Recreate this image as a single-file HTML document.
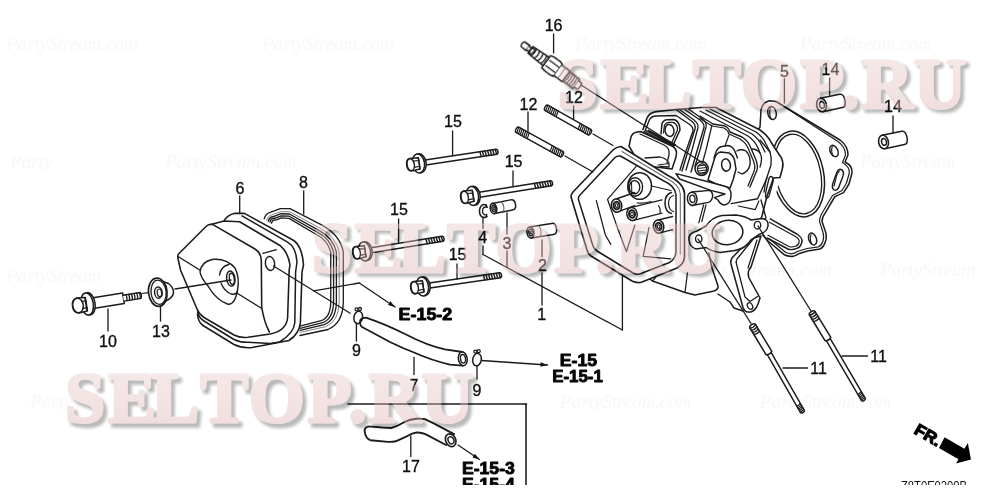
<!DOCTYPE html>
<html><head><meta charset="utf-8"><style>
html,body{margin:0;padding:0;background:#fff;}
body{width:1000px;height:500px;overflow:hidden;position:relative;font-family:"Liberation Sans",sans-serif;}
svg{position:absolute;left:0;top:0;display:block;font-family:"Liberation Sans",sans-serif;}
</style></head><body>
<svg width="1000" height="500" viewBox="0 0 1000 500">
<defs>
<filter id="bl" x="-5%" y="-20%" width="110%" height="140%"><feGaussianBlur stdDeviation="1.6"/></filter>
<linearGradient id="pg" x1="0" y1="0" x2="0" y2="1"><stop offset="0" stop-color="#eecfcf"/><stop offset="1" stop-color="#d9acac"/></linearGradient>
<clipPath id="cp"><rect x="0" y="0" width="1000" height="484.8"/></clipPath>
</defs>
<rect width="1000" height="500" fill="#fff"/>
<g font-family="Liberation Serif, serif" font-style="italic" font-size="19" fill="#f8f8f8">
<text x="6" y="50">PartyStream.com</text><text x="262" y="50">PartyStream.com</text><text x="575" y="50">PartyStream.com</text><text x="800" y="50">PartyStream.com</text>
<text x="10" y="168">Party</text><text x="165" y="168">PartyStream.com</text><text x="640" y="168">Stream.com</text><text x="860" y="168">PartyStream</text>
<text x="6" y="282">PartyStream</text><text x="700" y="276">PartyStream.com</text><text x="880" y="276">PartyStream</text>
<text x="30" y="408">Party</text><text x="560" y="408">PartyStream.com</text><text x="760" y="408">PartyStream.com</text>
</g>
<g clip-path="url(#cp)" stroke-linecap="round" stroke-linejoin="round" opacity="0.999">
<path d="M264.2,218.8 Q265.5,213.5 270.8,212.2 L280.4,208.6 L290.0,208.6 L322.0,225.2 Q340.0,235.0 343.3,252 L343.3,302 Q343.0,323.0 328.0,329.5 L300,335.5" fill="none" stroke="#1c1c1c" stroke-width="1.32" />
<path d="M266.59999999999997,220.24 Q267.74,215.42 272.40000000000003,214.76 L280.71999999999997,211.64 L289.68,211.79999999999998 L320.1568,228.23999999999998 Q335.904,236.6 339.204,252 L339.204,302 Q338.904,321.24 325.7472,326.62 L300,332.46" fill="none" stroke="#777" stroke-width="0.9239999999999999" />
<path d="M268.25,221.23000000000002 Q269.28,216.74 273.5,216.51999999999998 L280.94,213.73 L289.46,214.0 L318.8896,230.32999999999998 Q333.088,237.7 336.38800000000003,252 L336.38800000000003,302 Q336.088,320.03 324.1984,324.64 L300,330.37" fill="none" stroke="#1c1c1c" stroke-width="1.32" />
<path d="M269.9,222.22 Q270.82,218.06 274.6,218.28 L281.15999999999997,215.82 L289.24,216.2 L317.6224,232.42 Q330.272,238.8 333.572,252 L333.572,302 Q333.272,318.82 322.6496,322.66 L300,328.28" fill="none" stroke="#1c1c1c" stroke-width="1.32" />
<path d="M271.55,223.21 Q272.36,219.38 275.7,220.04 L281.38,217.91 L289.02,218.4 L316.3552,234.51 Q327.456,239.9 330.75600000000003,252 L330.75600000000003,302 Q330.456,317.61 321.1008,320.68 L300,326.19" fill="none" stroke="#1c1c1c" stroke-width="1.32" />
<path d="M224,221 Q227,215 235,213.2 L244.4,213.4 L292.4,239.8 Q302,245 303.5,265 L302,272 L300.4,322.8 Q299,334 289,340.5 L252,347.5 Q242,348.5 234,344.5 L203,325.5 Q198,322 197.5,314 L178,257 L208,225 Z" fill="#fff" stroke="none" stroke-width="0.0" />
<path d="M224,221 Q227,215 235,213.2 L244.4,213.4 L292.4,239.8 Q302,245 303.5,265 L302,272 L300.4,322.8 Q299,334 289,340.5 L252,347.5 Q242,348.5 234,344.5 L203,325.5 Q198,322 197.5,314" fill="none" stroke="#1c1c1c" stroke-width="1.584" />
<path d="M242,215.8 L287.6,242.2 Q296,247 297,262 L295.6,272 L294.8,322.8 Q294,333 279.6,342 L270,343.6 L248,342.3 Q240,342.5 234,339.5 L204,321 Q199,318 197.5,312" fill="none" stroke="#1c1c1c" stroke-width="1.518" />
<path d="M177.7,257 L180.5,270 L197,309 Q199,314 204,317.5 L234,335 Q240,338 248,337.3 L270,334 Q286,331 287.6,318 L289.2,270 L290,265 Q288,252 280.4,245.8 L239.6,221.8 L224,221 L211,224.6" fill="none" stroke="#1c1c1c" stroke-width="1.584" />
<path d="M177.7,257 Q177.5,255 179,253.5 L206.5,226 Q209,223.8 212.5,224.4 L255,249 Q261,253 261.3,260 L261.7,307 Q264,322 269.4,332" fill="none" stroke="#1c1c1c" stroke-width="1.584" />
<path d="M178,256.5 L261,308" fill="none" stroke="#1c1c1c" stroke-width="1.4520000000000002" />
<path d="M263,253.3 L276.4,249.7" fill="none" stroke="#1c1c1c" stroke-width="1.32" />
<ellipse cx="270.0" cy="263.5" rx="4.6" ry="7" transform="rotate(-8 270.0 263.5)" fill="none" stroke="#1c1c1c" stroke-width="1.4520000000000002"/>
<path d="M200,272 Q201,262 212,259.5 Q226,258 235,268 Q240,278 237.5,290 Q235,305 228,304.3 Q216,300 208,286 Q201,278 200,272 Z" fill="#fff" stroke="#1c1c1c" stroke-width="1.4520000000000002" />
<path d="M219.5,275 Q221,266 229,264.5 M221,283 Q224,291 231,294 Q236,295 237,292" fill="none" stroke="#1c1c1c" stroke-width="1.32" />
<ellipse cx="230.8" cy="278.6" rx="4.2" ry="7.6" transform="rotate(-8 230.8 278.6)" fill="#fff" stroke="#1c1c1c" stroke-width="1.4520000000000002"/>
<ellipse cx="231.8" cy="278.8" rx="2.4" ry="5.6" transform="rotate(-8 231.8 278.8)" fill="none" stroke="#1c1c1c" stroke-width="1.32"/>
<line x1="273.5" y1="266.0" x2="350.2" y2="313.2" stroke="#1c1c1c" stroke-width="1.32"/>
<g transform="translate(81.0 305.0) rotate(-9.10)">
<path d="M10,-5.3 L43,-5.3 L43,5.3 L10,5.3" fill="#fff" stroke="#1c1c1c" stroke-width="1.518" />
<path d="M43,-3 L60.5,-3 Q62,0 60.5,3 L43,3" fill="#fff" stroke="#1c1c1c" stroke-width="1.3860000000000001" />
<path d="M46,-3 Q47,0 46,3" fill="none" stroke="#1c1c1c" stroke-width="1.32" />
<path d="M48.7,-3 Q49.7,0 48.7,3" fill="none" stroke="#1c1c1c" stroke-width="1.32" />
<path d="M51.400000000000006,-3 Q52.400000000000006,0 51.400000000000006,3" fill="none" stroke="#1c1c1c" stroke-width="1.32" />
<path d="M54.10000000000001,-3 Q55.10000000000001,0 54.10000000000001,3" fill="none" stroke="#1c1c1c" stroke-width="1.32" />
<path d="M56.80000000000001,-3 Q57.80000000000001,0 56.80000000000001,3" fill="none" stroke="#1c1c1c" stroke-width="1.32" />
<path d="M59.500000000000014,-3 Q60.500000000000014,0 59.500000000000014,3" fill="none" stroke="#1c1c1c" stroke-width="1.32" />
<ellipse cx="8.0" cy="0.0" rx="6.2" ry="11.2" transform="rotate(0 8.0 0.0)" fill="#fff" stroke="#1c1c1c" stroke-width="1.518"/>
<ellipse cx="6.2" cy="0.0" rx="6.2" ry="11.2" transform="rotate(0 6.2 0.0)" fill="#fff" stroke="#1c1c1c" stroke-width="1.518"/>
<path d="M5,-6.8 L-3,-7.6 Q-8.6,-7 -8.6,0 Q-8.6,7 -3,7.6 L5,6.8 Z" fill="#fff" stroke="#1c1c1c" stroke-width="1.518" />
<ellipse cx="-3.0" cy="0.0" rx="5.2" ry="7.3" transform="rotate(0 -3.0 0.0)" fill="#fff" stroke="#1c1c1c" stroke-width="1.4520000000000002"/>
<line x1="1.0" y1="-3.6" x2="5.6" y2="-3.3" stroke="#1c1c1c" stroke-width="1.1880000000000002"/>
<line x1="1.0" y1="3.8" x2="5.6" y2="3.5" stroke="#1c1c1c" stroke-width="1.1880000000000002"/>
<line x1="5.6" y1="-6.8" x2="5.6" y2="6.8" stroke="#1c1c1c" stroke-width="1.1880000000000002"/>
</g>
<path d="M163,281.5 L168.5,283.5 Q174,287.5 173.4,293.5 Q172.4,298 165,301.5" fill="#fff" stroke="#1c1c1c" stroke-width="1.518" />
<ellipse cx="157.8" cy="292.2" rx="9.3" ry="14.2" transform="rotate(-6 157.8 292.2)" fill="#fff" stroke="#1c1c1c" stroke-width="1.6500000000000001"/>
<ellipse cx="158.6" cy="292.2" rx="7.6" ry="12.2" transform="rotate(-6 158.6 292.2)" fill="none" stroke="#1c1c1c" stroke-width="1.32"/>
<ellipse cx="158.4" cy="292.6" rx="3.8" ry="5.6" transform="rotate(-6 158.4 292.6)" fill="none" stroke="#1c1c1c" stroke-width="1.4520000000000002"/>
<ellipse cx="159.4" cy="292.8" rx="2.2" ry="3.8" transform="rotate(-6 159.4 292.8)" fill="none" stroke="#1c1c1c" stroke-width="1.1880000000000002"/>
<line x1="141.8" y1="293.5" x2="148.5" y2="292.6" stroke="#1c1c1c" stroke-width="1.254"/>
<path d="M366,317.6 Q385,324 405,334 Q428,346 445,349.3 L462.5,352 M362,327 Q375,334 390,342 Q402,348 414,352.5 Q432,360.5 450,364.6 L462.5,365.6 M366,317.6 Q359.5,318 360,322.5 Q360.3,326 362,327" fill="none" stroke="#1c1c1c" stroke-width="1.8479999999999999" />
<ellipse cx="462.8" cy="358.8" rx="4.4" ry="6.9" transform="rotate(-8 462.8 358.8)" fill="#fff" stroke="#1c1c1c" stroke-width="1.518"/>
<ellipse cx="463.0" cy="358.8" rx="2.5" ry="4.3" transform="rotate(-8 463.0 358.8)" fill="none" stroke="#1c1c1c" stroke-width="1.3860000000000001"/>
<path d="M368.8,426.4 Q364,427.5 364.7,431.5 Q365.5,438.5 370.4,440.2 L388,441.9 Q393,442 395.7,441.3 L407.8,435.8 Q412,433 416.6,432.5 Q421,432.2 425.4,434.2 L446,445 M368.8,426.4 L382.5,427.5 L391.3,428 Q398,426 404.5,422 Q410,419.2 416.6,418.7 Q421,418.3 425.4,419.3 L434.2,423.7 L454,434.2" fill="none" stroke="#1c1c1c" stroke-width="1.914" />
<ellipse cx="450.7" cy="440.2" rx="5" ry="6.6" transform="rotate(-25 450.7 440.2)" fill="#fff" stroke="#1c1c1c" stroke-width="1.7160000000000002"/>
<ellipse cx="451.0" cy="440.3" rx="2.8" ry="3.7" transform="rotate(-25 451.0 440.3)" fill="none" stroke="#1c1c1c" stroke-width="1.4520000000000002"/>
<ellipse cx="358.2" cy="317.4" rx="4.3" ry="6.3" transform="rotate(10 358.2 317.4)" fill="none" stroke="#1c1c1c" stroke-width="1.518"/>
<ellipse cx="356.6" cy="309.4" rx="1.5" ry="1.5" transform="rotate(0 356.6 309.4)" fill="none" stroke="#1c1c1c" stroke-width="1.32"/>
<ellipse cx="359.9" cy="309.0" rx="1.5" ry="1.5" transform="rotate(0 359.9 309.0)" fill="none" stroke="#1c1c1c" stroke-width="1.32"/>
<ellipse cx="477.0" cy="359.6" rx="4.3" ry="6.3" transform="rotate(10 477.0 359.6)" fill="none" stroke="#1c1c1c" stroke-width="1.518"/>
<ellipse cx="475.4" cy="351.6" rx="1.5" ry="1.5" transform="rotate(0 475.4 351.6)" fill="none" stroke="#1c1c1c" stroke-width="1.32"/>
<ellipse cx="478.7" cy="351.2" rx="1.5" ry="1.5" transform="rotate(0 478.7 351.2)" fill="none" stroke="#1c1c1c" stroke-width="1.32"/>
<g transform="translate(522 43.6) rotate(36.6) scale(1.04 1.13)">
<path d="M1,-2.6 L7,-2.9 L7,2.9 L1,2.6 Q-1,0 1,-2.6 Z" fill="#fff" stroke="#1c1c1c" stroke-width="1.32" />
<path d="M7,-2 L10,-2 L10,2 L7,2" fill="#fff" stroke="#1c1c1c" stroke-width="1.32" />
<path d="M10,-3.6 L29,-4.6 L29,4.6 L10,3.6 Z" fill="#fff" stroke="#1c1c1c" stroke-width="1.32" />
<path d="M14,-4 Q15.8,0 14,4" fill="none" stroke="#1c1c1c" stroke-width="1.1880000000000002" />
<path d="M18,-4 Q19.8,0 18,4" fill="none" stroke="#1c1c1c" stroke-width="1.1880000000000002" />
<path d="M22,-4 Q23.8,0 22,4" fill="none" stroke="#1c1c1c" stroke-width="1.1880000000000002" />
<path d="M26,-4 Q27.8,0 26,4" fill="none" stroke="#1c1c1c" stroke-width="1.1880000000000002" />
<ellipse cx="12.0" cy="0.0" rx="1.7" ry="2.8" transform="rotate(0 12.0 0.0)" fill="none" stroke="#1c1c1c" stroke-width="1.1880000000000002"/>
<path d="M29,-6.6 L33,-7.4 L40,-7.4 L43,-6.6 L43,6.6 L40,7.4 L33,7.4 L29,6.6 Z" fill="#fff" stroke="#1c1c1c" stroke-width="1.3860000000000001" />
<line x1="31.0" y1="-2.6" x2="42.0" y2="-2.6" stroke="#1c1c1c" stroke-width="1.122"/>
<line x1="31.0" y1="3.0" x2="42.0" y2="3.0" stroke="#1c1c1c" stroke-width="1.122"/>
<path d="M43,-5.8 L53,-5.8 L53,5.8 L43,5.8" fill="#fff" stroke="#1c1c1c" stroke-width="1.3860000000000001" />
<path d="M47.5,-5.8 L47.5,5.8" fill="none" stroke="#777" stroke-width="0.9239999999999999" />
<path d="M53,-5.0 L65,-5.0 L65,5.0 L53,5.0 Z" fill="#fff" stroke="#1c1c1c" stroke-width="1.3860000000000001" />
<path d="M54.5,-5 Q55.9,0 54.5,5" fill="none" stroke="#1c1c1c" stroke-width="1.122" />
<path d="M57.1,-5 Q58.5,0 57.1,5" fill="none" stroke="#1c1c1c" stroke-width="1.122" />
<path d="M59.7,-5 Q61.1,0 59.7,5" fill="none" stroke="#1c1c1c" stroke-width="1.122" />
<path d="M62.300000000000004,-5 Q63.7,0 62.300000000000004,5" fill="none" stroke="#1c1c1c" stroke-width="1.122" />
<path d="M64.9,-5 Q66.30000000000001,0 64.9,5" fill="none" stroke="#1c1c1c" stroke-width="1.122" />
<path d="M65,-3.4 L69,-3.2 Q70.5,0 69,3.2 L65,3.4" fill="#fff" stroke="#1c1c1c" stroke-width="1.32" />
</g>
<path d="M760,127 L761,110 Q762.5,102 770,100.8 L776,101.5 L840,140 Q848,146 848,155 L845,162 Q853,166 852,173 L849,184 L843.6,192.6 Q838,195 834.6,197 L825.6,212.4 Q822,217 822,221.4 L825.6,232 Q827,238 825.6,241 Q824,247 820,249 L807.6,251 L798.6,253.8 Q794,256.5 791.4,256.5 Q787,256 784.2,254.7 L768,241 L745,215 L745,150 Z" fill="#fff" stroke="#1c1c1c" stroke-width="1.518" />
<path d="M780,104 L838,141.5 Q845.5,147 845.5,155 L842.5,162.5 Q850,167 849.3,173 L846.5,183 L842,190.5 L832.5,195.5 L823,211.5 Q819.5,217 819.5,221.4 L823,232.5 Q824.3,238 823,241 Q821.5,245.5 818.5,246.8 L807,248.5 L798,251.3 Q794,253.8 791.4,253.8 Q788,253.5 785.5,252.3 L769.5,239" fill="none" stroke="#1c1c1c" stroke-width="1.1880000000000002" />
<ellipse cx="772.0" cy="113.0" rx="4.2" ry="6.6" transform="rotate(-12 772.0 113.0)" fill="none" stroke="#1c1c1c" stroke-width="1.4520000000000002"/>
<path d="M770.5,108 Q768.5,113 771,118.5" fill="none" stroke="#1c1c1c" stroke-width="1.1880000000000002" />
<ellipse cx="834.0" cy="151.0" rx="3.8" ry="6" transform="rotate(-25 834.0 151.0)" fill="none" stroke="#1c1c1c" stroke-width="1.4520000000000002"/>
<path d="M832.3,146.5 Q830.7,151 833,156" fill="none" stroke="#1c1c1c" stroke-width="1.122" />
<ellipse cx="812.6" cy="239.0" rx="3.8" ry="6.2" transform="rotate(-20 812.6 239.0)" fill="none" stroke="#1c1c1c" stroke-width="1.4520000000000002"/>
<path d="M811,234.5 Q809.4,239 811.6,244" fill="none" stroke="#1c1c1c" stroke-width="1.122" />
<path d="M841,169.5 Q844.5,171 843,176 L838.5,188 Q836,191.5 833.5,189.5 Q831.5,187.5 833,183 L837,172 Q838.5,168.5 841,169.5 Z" fill="none" stroke="#1c1c1c" stroke-width="1.4520000000000002" />
<path d="M839.5,171 Q837.5,172.5 836.5,176 L834,186" fill="none" stroke="#1c1c1c" stroke-width="1.122" />
<ellipse cx="798.0" cy="174.0" rx="25.5" ry="43.5" transform="rotate(-12 798.0 174.0)" fill="none" stroke="#1c1c1c" stroke-width="1.518"/>
<ellipse cx="798.0" cy="174.0" rx="22.6" ry="40.4" transform="rotate(-12 798.0 174.0)" fill="none" stroke="#1c1c1c" stroke-width="1.32"/>
<path d="M769.8,218.7 L796.8,234 Q802.5,237.5 802,241.5 Q801,247 796.8,248.4 Q792,250.5 788,249 L767,238" fill="none" stroke="#1c1c1c" stroke-width="1.4520000000000002" />
<path d="M769,222 L795.5,236.5 Q799.5,239 799.2,241.8 Q798.5,245.3 795.5,246.2 Q792,247.6 789,246.5 L768,235.2" fill="none" stroke="#1c1c1c" stroke-width="1.1880000000000002" />
<path d="M640,270 L652.5,281 L685,292.5 L695,295 L714,291 Q718.5,289.5 718,286 L712,268 L708,250 L757,243 L768,225 L780,178 L690,180 Z" fill="#fff" stroke="none" stroke-width="0.0" />
<path d="M646,276 L652.5,281 L685,292.5 L695,295 L714,291 Q718.5,289.5 718,286 L712,268 L708,250" fill="none" stroke="#1c1c1c" stroke-width="1.518" />
<path d="M718,294 L730,302 L734,308 L743,311" fill="none" stroke="#1c1c1c" stroke-width="1.4520000000000002" />
<path d="M687.5,272.5 L685,292.5 M652.5,281 L660,272" fill="none" stroke="#1c1c1c" stroke-width="1.254" />
<path d="M750,239 L732,258 Q730,261 731,264 L742,304 Q743.5,311 747,312 L751,312 Q756,310 758,304 L760,298 L749,278 Q747.5,273 749,270 L751,267 L761,236 Z" fill="#fff" stroke="#1c1c1c" stroke-width="1.518" />
<path d="M754,238 L737,259 Q735.5,261.5 736.5,264 L745,297 L750,301.5 L757.5,296.5 M757,240 L748,268" fill="none" stroke="#1c1c1c" stroke-width="1.254" />
<ellipse cx="750.0" cy="306.0" rx="2.5" ry="3.5" transform="rotate(-25 750.0 306.0)" fill="none" stroke="#1c1c1c" stroke-width="1.32"/>
<path d="M643,129.5 L647,118 Q649.5,112.8 656,111.6 L676,109.5 L701,107.5 L716,107.5 L760,130 Q768,135.5 771.5,143 L781.5,158 Q783.8,163 782.5,168 L780,177.5 L773.5,178 L767,196 L762,216 L757,228 L690,262 L690,180 L640,150 Z" fill="#fff" stroke="none" stroke-width="0.0" />
<path d="M643,129.5 L647,118 Q649.5,112.8 656,111.6 L676,109.5 L701,107.5 L716,107.5 L760,130 Q768,135.5 771.5,143 L781.5,158 Q783.8,163 782.5,168 L780,177.5 L773.5,178 L767,196 L762,216 L757,228" fill="none" stroke="#1c1c1c" stroke-width="1.584" />
<path d="M645,131 L649.5,119.5 Q651.5,116.3 656,116 L676,115.5 L689,124 Q693.5,127 693,131 L686,151 L680,170" fill="none" stroke="#1c1c1c" stroke-width="1.3860000000000001" />
<path d="M676,109.5 L692,121.5 Q696,124.5 695,129 L688,151 L682,171" fill="none" stroke="#1c1c1c" stroke-width="1.3860000000000001" />
<path d="M679,109.3 L694,120 Q698.5,123.5 698,127.5 L692,150 L686,170" fill="none" stroke="#1c1c1c" stroke-width="1.32" />
<path d="M684,109 L700,120 Q704.5,123.5 704,127.5 L697,151 L691,172" fill="none" stroke="#1c1c1c" stroke-width="1.3860000000000001" />
<path d="M688,108.7 L702,118.5 Q707,122 706,127 L700,150 L695,166" fill="none" stroke="#1c1c1c" stroke-width="1.32" />
<path d="M712,125 L706,150 L703,161" fill="none" stroke="#1c1c1c" stroke-width="1.254" />
<path d="M710,109 L756,132 Q763,137 766,144 L770,152" fill="none" stroke="#1c1c1c" stroke-width="1.3860000000000001" />
<path d="M706,110 L752,134 Q759,139 762,146 L765,152" fill="none" stroke="#1c1c1c" stroke-width="1.32" />
<path d="M700,111 L748,136 Q755,141 758,148 L760,153" fill="none" stroke="#1c1c1c" stroke-width="1.32" />
<path d="M700,116 L713,124 L725,126 Q729,128 730,132 L742,137 Q748,141 750,146 L756,160 Q758,166 757,170 L750,187" fill="none" stroke="#1c1c1c" stroke-width="1.3860000000000001" />
<path d="M700,118.5 L712,126 L724,128 Q728,130 729,134 L740,139 Q746,143 748,148 L753.5,161 Q755.5,166 754.5,170 L748,186" fill="none" stroke="#1c1c1c" stroke-width="1.254" />
<path d="M729,135 L725,146" fill="none" stroke="#1c1c1c" stroke-width="1.1880000000000002" />
<path d="M760,140 L770,152 Q772,158 771,165 L766,180 L764,192" fill="none" stroke="#1c1c1c" stroke-width="1.32" />
<path d="M771,176.5 Q774,177.5 773,182 L769,196 Q767.5,199 766,197.5 Q765,196 766,191 L769,178.5 Q770,176 771,176.5 Z" fill="none" stroke="#1c1c1c" stroke-width="1.32" />
<path d="M761,200 L766,218 L754,224" fill="none" stroke="#1c1c1c" stroke-width="1.32" />
<path d="M737,151 Q741,148.5 746,151 Q751,156 750,165 Q748,172 742,174 L738,172" fill="none" stroke="#1c1c1c" stroke-width="1.3860000000000001" />
<path d="M752,149 Q757,149 760,153 Q763,158 760,167" fill="none" stroke="#1c1c1c" stroke-width="1.32" />
<path d="M661,134 L662,123.5 Q663.5,120 667,119.8 L674,119.5 Q678.5,121 679.5,126 L680,130 L674,143 L671.5,150" fill="#fff" stroke="#1c1c1c" stroke-width="1.518" />
<path d="M663.5,133 L664.5,125 Q666,122.5 669,122.3 L673,122.3 Q676.5,123.5 677.3,127 L677.5,130 L672,142" fill="none" stroke="#1c1c1c" stroke-width="1.254" />
<ellipse cx="669.5" cy="130.5" rx="4.4" ry="6" transform="rotate(-10 669.5 130.5)" fill="none" stroke="#1c1c1c" stroke-width="1.518"/>
<ellipse cx="701.6" cy="168.6" rx="6.6" ry="7" transform="rotate(0 701.6 168.6)" fill="#fff" stroke="#1c1c1c" stroke-width="1.518"/>
<ellipse cx="702.0" cy="169.0" rx="4.6" ry="5.2" transform="rotate(0 702.0 169.0)" fill="none" stroke="#1c1c1c" stroke-width="1.254"/>
<path d="M698,166 L706,165 M697.5,168.5 L706.5,167.5 M698,171 L706,170 M699,173.2 L705,172.4" fill="none" stroke="#1c1c1c" stroke-width="1.122" />
<path d="M708,180 L715,157 Q717,152.5 721,152 L729,153 Q733.5,155.5 734.5,160 L736,169 L733,180 L730,188 L716,184 Z" fill="#fff" stroke="#1c1c1c" stroke-width="1.518" />
<path d="M714,158 L716,152 Q718,147 722,146.5 L728,145.5 Q733,146.5 735,151.5 L737.5,158" fill="none" stroke="#1c1c1c" stroke-width="1.3860000000000001" />
<ellipse cx="726.0" cy="165.0" rx="4.4" ry="6.2" transform="rotate(-10 726.0 165.0)" fill="none" stroke="#1c1c1c" stroke-width="1.518"/>
<path d="M629,146 L631,137 Q632.5,133 636,132.2 L640.5,131.5 L672,146 Q676.5,148.5 676.5,153 L676,157 L672,169 L640,165 Z" fill="#fff" stroke="#1c1c1c" stroke-width="1.518" />
<path d="M640,134 L664,145 Q668.5,147.5 669,151 L669,155 L667,163" fill="none" stroke="#1c1c1c" stroke-width="1.32" />
<path d="M644,131.6 L673,146.2 M646,130.6 L674.5,145.6 M648.5,130.3 L675.5,144.6" fill="none" stroke="#1c1c1c" stroke-width="1.32" />
<path d="M645,158 L660,157 Q666,158 669,163 M658,165 L669,163.5 L669,167 L660,166.5" fill="none" stroke="#1c1c1c" stroke-width="1.254" />
<path d="M689,240 Q688,233 697,231 L706,226 Q712,217 722,215.5 L736,215 Q745,216 751,220 L762,218.5 Q769,219.5 768,226 Q767,232 760,234 L751,240 Q745,249 735,250.5 L720,252.5 Q711,251 706,247.5 L696,249 Q690,247.5 689,240 Z" fill="#fff" stroke="#1c1c1c" stroke-width="1.518" />
<ellipse cx="727.5" cy="232.5" rx="15.4" ry="12.2" transform="rotate(-8 727.5 232.5)" fill="none" stroke="#1c1c1c" stroke-width="1.518"/>
<ellipse cx="698.7" cy="238.8" rx="3.2" ry="3.8" transform="rotate(0 698.7 238.8)" fill="none" stroke="#1c1c1c" stroke-width="1.3860000000000001"/>
<ellipse cx="757.5" cy="225.2" rx="3.2" ry="3.8" transform="rotate(0 757.5 225.2)" fill="none" stroke="#1c1c1c" stroke-width="1.3860000000000001"/>
<path d="M676,173.6 L713,183 L726.4,186.8 Q731,189 731,194 Q731,200 729,202.4 Q726,205.5 723,204.8 Q719,203 718,200 L714.4,197.6 L725,194 L710.8,190.4 L679.6,179 Z" fill="#fff" stroke="#1c1c1c" stroke-width="1.4520000000000002" />
<path d="M703.6,204.8 L698.8,222.8 M706,204.8 L701.8,221.6" fill="none" stroke="#1c1c1c" stroke-width="1.254" />
<path d="M731.2,203.6 L757.6,198.8 L767,178" fill="none" stroke="#1c1c1c" stroke-width="1.3860000000000001" />
<path d="M738.4,206 L755.2,209.6 L758.8,201.2" fill="none" stroke="#1c1c1c" stroke-width="1.254" />
<path d="M571.2,197.6 Q570.5,195 573,192 L613,150 Q616,147 621,146.5 L668,175.5 Q683.5,183 684.5,193 L684.5,257 Q684,264 677,268 L642,282 Q637,283.5 632,281 L591,256 Q588,254 587,250 Z" fill="#fff" stroke="#1c1c1c" stroke-width="1.6500000000000001" />
<path d="M578.4,199.5 Q578,197 580,195 L615,157.5 Q617,155.5 620.5,156 L663,180.5 Q675.5,186 676,195 L676,252 Q675.5,259 669.5,262.5 L641,273.5 Q637,275 633,273 L597,251 Q594,249 593,246 Z" fill="none" stroke="#1c1c1c" stroke-width="1.518" />
<path d="M622,151.5 L666,178 Q679.5,184.5 680.3,194 L680.3,254" fill="none" stroke="#666" stroke-width="1.056" />
<path d="M692,192 L709.6,190.4 Q713,192.5 712.6,196.5 Q712,201 708.4,202.4 L692,205.5" fill="#fff" stroke="#1c1c1c" stroke-width="1.4520000000000002" />
<ellipse cx="692.2" cy="198.8" rx="4.8" ry="6.6" transform="rotate(-5 692.2 198.8)" fill="#fff" stroke="#1c1c1c" stroke-width="1.518"/>
<ellipse cx="692.4" cy="198.8" rx="2.6" ry="3.7" transform="rotate(-5 692.4 198.8)" fill="none" stroke="#1c1c1c" stroke-width="1.32"/>
<path d="M651.6,186 L671,190.5" fill="none" stroke="#1c1c1c" stroke-width="1.254" />
<ellipse cx="639.7" cy="186.0" rx="11.8" ry="13.3" transform="rotate(0 639.7 186.0)" fill="#fff" stroke="#1c1c1c" stroke-width="1.518"/>
<ellipse cx="635.2" cy="187.0" rx="7.4" ry="9.2" transform="rotate(0 635.2 187.0)" fill="none" stroke="#1c1c1c" stroke-width="1.3860000000000001"/>
<ellipse cx="634.6" cy="187.2" rx="5.2" ry="6.6" transform="rotate(0 634.6 187.2)" fill="none" stroke="#1c1c1c" stroke-width="1.32"/>
<path d="M631.5,182.5 L631.8,192 L636,194" fill="none" stroke="#1c1c1c" stroke-width="1.056" />
<path d="M671.5,192.5 Q665,194 665,203.5 Q665.5,212.5 671.5,213.5" fill="none" stroke="#1c1c1c" stroke-width="1.518" />
<path d="M673.5,195.5 Q668.5,197 668.5,203.5 Q669,210.5 673.5,211.5" fill="none" stroke="#1c1c1c" stroke-width="1.254" />
<path d="M637,203 Q645,203.5 651,201.5 M658.5,205.5 Q661,209 660,213" fill="none" stroke="#1c1c1c" stroke-width="1.122" />
<path d="M596.3,200.7 L605.4,235 L610.8,244.4 M607.5,199.3 L618,229.4 L626.4,251.6 L634.8,225.2 M649,227.6 L643.2,256.4 L670.8,258.8 M607.5,199.3 L636.2,166.4" fill="none" stroke="#1c1c1c" stroke-width="1.254" />
<path d="M616.1,199.0 L634.6,192.5 M617.1,212.2 L634.6,205.7" fill="none" stroke="#1c1c1c" stroke-width="1.3860000000000001" />
<ellipse cx="616.6" cy="205.6" rx="5.2" ry="6.6" transform="rotate(-10 616.6 205.6)" fill="#fff" stroke="#1c1c1c" stroke-width="1.518"/>
<ellipse cx="616.6" cy="205.6" rx="3.0" ry="3.8" transform="rotate(-10 616.6 205.6)" fill="none" stroke="#1c1c1c" stroke-width="1.98"/>
<ellipse cx="616.6" cy="205.6" rx="1.3" ry="1.8" transform="rotate(-10 616.6 205.6)" fill="none" stroke="#1c1c1c" stroke-width="1.056"/>
<path d="M631.5,207.4 L662,199.9 M632.5,220.6 L662,213.1" fill="none" stroke="#1c1c1c" stroke-width="1.3860000000000001" />
<ellipse cx="632.0" cy="214.0" rx="5.2" ry="6.6" transform="rotate(-10 632.0 214.0)" fill="#fff" stroke="#1c1c1c" stroke-width="1.518"/>
<ellipse cx="632.0" cy="214.0" rx="3.0" ry="3.8" transform="rotate(-10 632.0 214.0)" fill="none" stroke="#1c1c1c" stroke-width="1.98"/>
<ellipse cx="632.0" cy="214.0" rx="1.3" ry="1.8" transform="rotate(-10 632.0 214.0)" fill="none" stroke="#1c1c1c" stroke-width="1.056"/>
<path d="M658.1,220.0 L672.6,216.5 M659.1,233.2 L672.6,229.7" fill="none" stroke="#1c1c1c" stroke-width="1.3860000000000001" />
<ellipse cx="658.6" cy="226.6" rx="5.2" ry="6.6" transform="rotate(-10 658.6 226.6)" fill="#fff" stroke="#1c1c1c" stroke-width="1.518"/>
<ellipse cx="658.6" cy="226.6" rx="3.0" ry="3.8" transform="rotate(-10 658.6 226.6)" fill="none" stroke="#1c1c1c" stroke-width="1.98"/>
<ellipse cx="658.6" cy="226.6" rx="1.3" ry="1.8" transform="rotate(-10 658.6 226.6)" fill="none" stroke="#1c1c1c" stroke-width="1.056"/>
<g transform="translate(415.0 164.0) rotate(-8.50)">
<path d="M9,-2.5 L82.42115347157711,-2.5 Q83.92115347157711,-2.5 83.92115347157711,0 Q83.92115347157711,2.5 82.42115347157711,2.5 L9,2.5" fill="#fff" stroke="#1c1c1c" stroke-width="1.518" />
<line x1="65.9" y1="-2.5" x2="66.7" y2="2.5" stroke="#1c1c1c" stroke-width="1.4520000000000002"/>
<line x1="68.5" y1="-2.5" x2="69.3" y2="2.5" stroke="#1c1c1c" stroke-width="1.4520000000000002"/>
<line x1="71.1" y1="-2.5" x2="71.9" y2="2.5" stroke="#1c1c1c" stroke-width="1.4520000000000002"/>
<line x1="73.7" y1="-2.5" x2="74.5" y2="2.5" stroke="#1c1c1c" stroke-width="1.4520000000000002"/>
<line x1="76.3" y1="-2.5" x2="77.1" y2="2.5" stroke="#1c1c1c" stroke-width="1.4520000000000002"/>
<line x1="78.9" y1="-2.5" x2="79.7" y2="2.5" stroke="#1c1c1c" stroke-width="1.4520000000000002"/>
<line x1="81.5" y1="-2.5" x2="82.3" y2="2.5" stroke="#1c1c1c" stroke-width="1.4520000000000002"/>
<ellipse cx="5.0" cy="0.0" rx="6.2" ry="9.5" transform="rotate(0 5.0 0.0)" fill="#fff" stroke="#1c1c1c" stroke-width="1.518"/>
<ellipse cx="3.4" cy="0.0" rx="6.2" ry="9.5" transform="rotate(0 3.4 0.0)" fill="#fff" stroke="#1c1c1c" stroke-width="1.518"/>
<path d="M4.2,-5.6 L-4.5,-6.3 Q-8.4,-6 -8.4,0 Q-8.4,6 -4.5,6.3 L4.2,5.6 Z" fill="#fff" stroke="#1c1c1c" stroke-width="1.518" />
<ellipse cx="-4.3" cy="0.0" rx="3.6" ry="6.0" transform="rotate(0 -4.3 0.0)" fill="#fff" stroke="#1c1c1c" stroke-width="1.4520000000000002"/>
<line x1="-1.2" y1="-3.2" x2="4.3" y2="-2.8" stroke="#1c1c1c" stroke-width="1.1880000000000002"/>
<line x1="-1.2" y1="3.2" x2="4.3" y2="2.9" stroke="#1c1c1c" stroke-width="1.1880000000000002"/>
<line x1="4.3" y1="-5.6" x2="4.3" y2="5.6" stroke="#1c1c1c" stroke-width="1.1880000000000002"/>
</g>
<g transform="translate(469.0 196.5) rotate(-9.18)">
<path d="M9,-2.5 L83.08427749883545,-2.5 Q84.58427749883545,-2.5 84.58427749883545,0 Q84.58427749883545,2.5 83.08427749883545,2.5 L9,2.5" fill="#fff" stroke="#1c1c1c" stroke-width="1.518" />
<line x1="66.6" y1="-2.5" x2="67.4" y2="2.5" stroke="#1c1c1c" stroke-width="1.4520000000000002"/>
<line x1="69.2" y1="-2.5" x2="70.0" y2="2.5" stroke="#1c1c1c" stroke-width="1.4520000000000002"/>
<line x1="71.8" y1="-2.5" x2="72.6" y2="2.5" stroke="#1c1c1c" stroke-width="1.4520000000000002"/>
<line x1="74.4" y1="-2.5" x2="75.2" y2="2.5" stroke="#1c1c1c" stroke-width="1.4520000000000002"/>
<line x1="77.0" y1="-2.5" x2="77.8" y2="2.5" stroke="#1c1c1c" stroke-width="1.4520000000000002"/>
<line x1="79.6" y1="-2.5" x2="80.4" y2="2.5" stroke="#1c1c1c" stroke-width="1.4520000000000002"/>
<line x1="82.2" y1="-2.5" x2="83.0" y2="2.5" stroke="#1c1c1c" stroke-width="1.4520000000000002"/>
<ellipse cx="5.0" cy="0.0" rx="6.2" ry="9.5" transform="rotate(0 5.0 0.0)" fill="#fff" stroke="#1c1c1c" stroke-width="1.518"/>
<ellipse cx="3.4" cy="0.0" rx="6.2" ry="9.5" transform="rotate(0 3.4 0.0)" fill="#fff" stroke="#1c1c1c" stroke-width="1.518"/>
<path d="M4.2,-5.6 L-4.5,-6.3 Q-8.4,-6 -8.4,0 Q-8.4,6 -4.5,6.3 L4.2,5.6 Z" fill="#fff" stroke="#1c1c1c" stroke-width="1.518" />
<ellipse cx="-4.3" cy="0.0" rx="3.6" ry="6.0" transform="rotate(0 -4.3 0.0)" fill="#fff" stroke="#1c1c1c" stroke-width="1.4520000000000002"/>
<line x1="-1.2" y1="-3.2" x2="4.3" y2="-2.8" stroke="#1c1c1c" stroke-width="1.1880000000000002"/>
<line x1="-1.2" y1="3.2" x2="4.3" y2="2.9" stroke="#1c1c1c" stroke-width="1.1880000000000002"/>
<line x1="4.3" y1="-5.6" x2="4.3" y2="5.6" stroke="#1c1c1c" stroke-width="1.1880000000000002"/>
</g>
<g transform="translate(361.0 252.0) rotate(-9.24)">
<path d="M9,-2.5 L82.5907248155229,-2.5 Q84.0907248155229,-2.5 84.0907248155229,0 Q84.0907248155229,2.5 82.5907248155229,2.5 L9,2.5" fill="#fff" stroke="#1c1c1c" stroke-width="1.518" />
<line x1="66.1" y1="-2.5" x2="66.9" y2="2.5" stroke="#1c1c1c" stroke-width="1.4520000000000002"/>
<line x1="68.7" y1="-2.5" x2="69.5" y2="2.5" stroke="#1c1c1c" stroke-width="1.4520000000000002"/>
<line x1="71.3" y1="-2.5" x2="72.1" y2="2.5" stroke="#1c1c1c" stroke-width="1.4520000000000002"/>
<line x1="73.9" y1="-2.5" x2="74.7" y2="2.5" stroke="#1c1c1c" stroke-width="1.4520000000000002"/>
<line x1="76.5" y1="-2.5" x2="77.3" y2="2.5" stroke="#1c1c1c" stroke-width="1.4520000000000002"/>
<line x1="79.1" y1="-2.5" x2="79.9" y2="2.5" stroke="#1c1c1c" stroke-width="1.4520000000000002"/>
<line x1="81.7" y1="-2.5" x2="82.5" y2="2.5" stroke="#1c1c1c" stroke-width="1.4520000000000002"/>
<ellipse cx="5.0" cy="0.0" rx="6.2" ry="9.5" transform="rotate(0 5.0 0.0)" fill="#fff" stroke="#1c1c1c" stroke-width="1.518"/>
<ellipse cx="3.4" cy="0.0" rx="6.2" ry="9.5" transform="rotate(0 3.4 0.0)" fill="#fff" stroke="#1c1c1c" stroke-width="1.518"/>
<path d="M4.2,-5.6 L-4.5,-6.3 Q-8.4,-6 -8.4,0 Q-8.4,6 -4.5,6.3 L4.2,5.6 Z" fill="#fff" stroke="#1c1c1c" stroke-width="1.518" />
<ellipse cx="-4.3" cy="0.0" rx="3.6" ry="6.0" transform="rotate(0 -4.3 0.0)" fill="#fff" stroke="#1c1c1c" stroke-width="1.4520000000000002"/>
<line x1="-1.2" y1="-3.2" x2="4.3" y2="-2.8" stroke="#1c1c1c" stroke-width="1.1880000000000002"/>
<line x1="-1.2" y1="3.2" x2="4.3" y2="2.9" stroke="#1c1c1c" stroke-width="1.1880000000000002"/>
<line x1="4.3" y1="-5.6" x2="4.3" y2="5.6" stroke="#1c1c1c" stroke-width="1.1880000000000002"/>
</g>
<g transform="translate(419.0 287.0) rotate(-8.28)">
<path d="M9,-2.5 L81.86815938954152,-2.5 Q83.36815938954152,-2.5 83.36815938954152,0 Q83.36815938954152,2.5 81.86815938954152,2.5 L9,2.5" fill="#fff" stroke="#1c1c1c" stroke-width="1.518" />
<line x1="65.4" y1="-2.5" x2="66.2" y2="2.5" stroke="#1c1c1c" stroke-width="1.4520000000000002"/>
<line x1="68.0" y1="-2.5" x2="68.8" y2="2.5" stroke="#1c1c1c" stroke-width="1.4520000000000002"/>
<line x1="70.6" y1="-2.5" x2="71.4" y2="2.5" stroke="#1c1c1c" stroke-width="1.4520000000000002"/>
<line x1="73.2" y1="-2.5" x2="74.0" y2="2.5" stroke="#1c1c1c" stroke-width="1.4520000000000002"/>
<line x1="75.8" y1="-2.5" x2="76.6" y2="2.5" stroke="#1c1c1c" stroke-width="1.4520000000000002"/>
<line x1="78.4" y1="-2.5" x2="79.2" y2="2.5" stroke="#1c1c1c" stroke-width="1.4520000000000002"/>
<line x1="81.0" y1="-2.5" x2="81.8" y2="2.5" stroke="#1c1c1c" stroke-width="1.4520000000000002"/>
<ellipse cx="5.0" cy="0.0" rx="6.2" ry="9.5" transform="rotate(0 5.0 0.0)" fill="#fff" stroke="#1c1c1c" stroke-width="1.518"/>
<ellipse cx="3.4" cy="0.0" rx="6.2" ry="9.5" transform="rotate(0 3.4 0.0)" fill="#fff" stroke="#1c1c1c" stroke-width="1.518"/>
<path d="M4.2,-5.6 L-4.5,-6.3 Q-8.4,-6 -8.4,0 Q-8.4,6 -4.5,6.3 L4.2,5.6 Z" fill="#fff" stroke="#1c1c1c" stroke-width="1.518" />
<ellipse cx="-4.3" cy="0.0" rx="3.6" ry="6.0" transform="rotate(0 -4.3 0.0)" fill="#fff" stroke="#1c1c1c" stroke-width="1.4520000000000002"/>
<line x1="-1.2" y1="-3.2" x2="4.3" y2="-2.8" stroke="#1c1c1c" stroke-width="1.1880000000000002"/>
<line x1="-1.2" y1="3.2" x2="4.3" y2="2.9" stroke="#1c1c1c" stroke-width="1.1880000000000002"/>
<line x1="4.3" y1="-5.6" x2="4.3" y2="5.6" stroke="#1c1c1c" stroke-width="1.1880000000000002"/>
</g>
<text x="453.0" y="127.1" font-size="16" font-weight="normal" text-anchor="middle" fill="#111" stroke="#111" stroke-width="0.35" >15</text>
<text x="513.6" y="167.1" font-size="16" font-weight="normal" text-anchor="middle" fill="#111" stroke="#111" stroke-width="0.35" >15</text>
<text x="399.0" y="215.1" font-size="16" font-weight="normal" text-anchor="middle" fill="#111" stroke="#111" stroke-width="0.35" >15</text>
<text x="457.6" y="260.1" font-size="16" font-weight="normal" text-anchor="middle" fill="#111" stroke="#111" stroke-width="0.35" >15</text>
<line x1="452.6" y1="131.0" x2="452.6" y2="155.5" stroke="#1c1c1c" stroke-width="1.32"/>
<line x1="513.0" y1="171.0" x2="513.0" y2="186.0" stroke="#1c1c1c" stroke-width="1.32"/>
<line x1="398.6" y1="219.0" x2="398.6" y2="243.5" stroke="#1c1c1c" stroke-width="1.32"/>
<line x1="457.0" y1="264.0" x2="457.0" y2="279.0" stroke="#1c1c1c" stroke-width="1.32"/>
<g transform="translate(516.0 129.0) rotate(28.95)">
<path d="M2,-3.0 L51.71219600798314,-3.0 Q53.71219600798314,-3.0 53.71219600798314,0 Q53.71219600798314,3.0 51.71219600798314,3.0 L2,3.0 Q0,3.0 0,0 Q0,-3.0 2,-3.0 Z" fill="#fff" stroke="#1c1c1c" stroke-width="1.4520000000000002" />
<line x1="1.5" y1="-3.0" x2="2.5" y2="3.0" stroke="#1c1c1c" stroke-width="1.1880000000000002"/>
<line x1="3.5" y1="-3.0" x2="4.5" y2="3.0" stroke="#1c1c1c" stroke-width="1.1880000000000002"/>
<line x1="5.5" y1="-3.0" x2="6.5" y2="3.0" stroke="#1c1c1c" stroke-width="1.1880000000000002"/>
<line x1="7.5" y1="-3.0" x2="8.5" y2="3.0" stroke="#1c1c1c" stroke-width="1.1880000000000002"/>
<line x1="9.5" y1="-3.0" x2="10.5" y2="3.0" stroke="#1c1c1c" stroke-width="1.1880000000000002"/>
<line x1="11.5" y1="-3.0" x2="12.5" y2="3.0" stroke="#1c1c1c" stroke-width="1.1880000000000002"/>
<line x1="13.5" y1="-3.0" x2="14.5" y2="3.0" stroke="#1c1c1c" stroke-width="1.1880000000000002"/>
<line x1="39.7" y1="-3.0" x2="40.7" y2="3.0" stroke="#1c1c1c" stroke-width="1.1880000000000002"/>
<line x1="41.7" y1="-3.0" x2="42.7" y2="3.0" stroke="#1c1c1c" stroke-width="1.1880000000000002"/>
<line x1="43.7" y1="-3.0" x2="44.7" y2="3.0" stroke="#1c1c1c" stroke-width="1.1880000000000002"/>
<line x1="45.7" y1="-3.0" x2="46.7" y2="3.0" stroke="#1c1c1c" stroke-width="1.1880000000000002"/>
<line x1="47.7" y1="-3.0" x2="48.7" y2="3.0" stroke="#1c1c1c" stroke-width="1.1880000000000002"/>
<line x1="49.7" y1="-3.0" x2="50.7" y2="3.0" stroke="#1c1c1c" stroke-width="1.1880000000000002"/>
<line x1="51.7" y1="-3.0" x2="52.7" y2="3.0" stroke="#1c1c1c" stroke-width="1.1880000000000002"/>
</g>
<g transform="translate(545.0 107.0) rotate(29.48)">
<path d="M2,-3.0 L50.839379254491625,-3.0 Q52.839379254491625,-3.0 52.839379254491625,0 Q52.839379254491625,3.0 50.839379254491625,3.0 L2,3.0 Q0,3.0 0,0 Q0,-3.0 2,-3.0 Z" fill="#fff" stroke="#1c1c1c" stroke-width="1.4520000000000002" />
<line x1="1.5" y1="-3.0" x2="2.5" y2="3.0" stroke="#1c1c1c" stroke-width="1.1880000000000002"/>
<line x1="3.5" y1="-3.0" x2="4.5" y2="3.0" stroke="#1c1c1c" stroke-width="1.1880000000000002"/>
<line x1="5.5" y1="-3.0" x2="6.5" y2="3.0" stroke="#1c1c1c" stroke-width="1.1880000000000002"/>
<line x1="7.5" y1="-3.0" x2="8.5" y2="3.0" stroke="#1c1c1c" stroke-width="1.1880000000000002"/>
<line x1="9.5" y1="-3.0" x2="10.5" y2="3.0" stroke="#1c1c1c" stroke-width="1.1880000000000002"/>
<line x1="11.5" y1="-3.0" x2="12.5" y2="3.0" stroke="#1c1c1c" stroke-width="1.1880000000000002"/>
<line x1="13.5" y1="-3.0" x2="14.5" y2="3.0" stroke="#1c1c1c" stroke-width="1.1880000000000002"/>
<line x1="38.8" y1="-3.0" x2="39.8" y2="3.0" stroke="#1c1c1c" stroke-width="1.1880000000000002"/>
<line x1="40.8" y1="-3.0" x2="41.8" y2="3.0" stroke="#1c1c1c" stroke-width="1.1880000000000002"/>
<line x1="42.8" y1="-3.0" x2="43.8" y2="3.0" stroke="#1c1c1c" stroke-width="1.1880000000000002"/>
<line x1="44.8" y1="-3.0" x2="45.8" y2="3.0" stroke="#1c1c1c" stroke-width="1.1880000000000002"/>
<line x1="46.8" y1="-3.0" x2="47.8" y2="3.0" stroke="#1c1c1c" stroke-width="1.1880000000000002"/>
<line x1="48.8" y1="-3.0" x2="49.8" y2="3.0" stroke="#1c1c1c" stroke-width="1.1880000000000002"/>
<line x1="50.8" y1="-3.0" x2="51.8" y2="3.0" stroke="#1c1c1c" stroke-width="1.1880000000000002"/>
</g>
<text x="528.5" y="109.7" font-size="16" font-weight="normal" text-anchor="middle" fill="#111" stroke="#111" stroke-width="0.35" >12</text>
<text x="574.0" y="103.1" font-size="16" font-weight="normal" text-anchor="middle" fill="#111" stroke="#111" stroke-width="0.35" >12</text>
<line x1="528.0" y1="112.0" x2="528.0" y2="131.0" stroke="#1c1c1c" stroke-width="1.32"/>
<line x1="573.6" y1="106.0" x2="573.6" y2="119.0" stroke="#1c1c1c" stroke-width="1.32"/>
<line x1="593.0" y1="134.0" x2="613.0" y2="145.5" stroke="#1c1c1c" stroke-width="1.32"/>
<line x1="565.0" y1="156.0" x2="593.0" y2="172.0" stroke="#1c1c1c" stroke-width="1.32"/>
<g transform="translate(821.5 105.0) rotate(-11.81)">
<path d="M0,-6.8 L19.975764725588313,-6.8 Q23.975764725588313,-6.8 23.975764725588313,0 Q23.975764725588313,6.8 19.975764725588313,6.8 L0,6.8" fill="#fff" stroke="#1c1c1c" stroke-width="1.518" />
<ellipse cx="0.0" cy="0.0" rx="4.896" ry="6.8" transform="rotate(0 0.0 0.0)" fill="#fff" stroke="#1c1c1c" stroke-width="1.584"/>
<ellipse cx="0.5" cy="0.0" rx="2.448" ry="3.4" transform="rotate(0 0.5 0.0)" fill="none" stroke="#1c1c1c" stroke-width="1.4520000000000002"/>
</g>
<g transform="translate(883.5 142.0) rotate(-11.81)">
<path d="M0,-6.8 L19.975764725588313,-6.8 Q23.975764725588313,-6.8 23.975764725588313,0 Q23.975764725588313,6.8 19.975764725588313,6.8 L0,6.8" fill="#fff" stroke="#1c1c1c" stroke-width="1.518" />
<ellipse cx="0.0" cy="0.0" rx="4.896" ry="6.8" transform="rotate(0 0.0 0.0)" fill="#fff" stroke="#1c1c1c" stroke-width="1.584"/>
<ellipse cx="0.5" cy="0.0" rx="2.448" ry="3.4" transform="rotate(0 0.5 0.0)" fill="none" stroke="#1c1c1c" stroke-width="1.4520000000000002"/>
</g>
<text x="830.5" y="74.7" font-size="16" font-weight="normal" text-anchor="middle" fill="#111" stroke="#111" stroke-width="0.35" >14</text>
<text x="893.0" y="112.1" font-size="16" font-weight="normal" text-anchor="middle" fill="#111" stroke="#111" stroke-width="0.35" >14</text>
<line x1="829.6" y1="78.0" x2="829.6" y2="95.0" stroke="#1c1c1c" stroke-width="1.32"/>
<line x1="893.0" y1="116.0" x2="893.0" y2="133.0" stroke="#1c1c1c" stroke-width="1.32"/>
<g transform="translate(493.5 208.5) rotate(-11.04)">
<path d="M0,-5.2 L18.386598574205422,-5.2 Q22.386598574205422,-5.2 22.386598574205422,0 Q22.386598574205422,5.2 18.386598574205422,5.2 L0,5.2" fill="#fff" stroke="#1c1c1c" stroke-width="1.518" />
<path d="M9,-5.2 Q11.9016,0 9,5.2" fill="none" stroke="#555" stroke-width="1.056" />
<ellipse cx="0.0" cy="0.0" rx="3.224" ry="5.2" transform="rotate(0 0.0 0.0)" fill="#fff" stroke="#1c1c1c" stroke-width="1.584"/>
<ellipse cx="0.4" cy="0.0" rx="1.9988800000000002" ry="3.224" transform="rotate(0 0.4 0.0)" fill="none" stroke="#1c1c1c" stroke-width="1.32"/>
<ellipse cx="0.6" cy="0.0" rx="0.9672000000000001" ry="1.6" transform="rotate(0 0.6 0.0)" fill="none" stroke="#1c1c1c" stroke-width="1.1880000000000002"/>
</g>
<g transform="translate(530.5 232.5) rotate(-9.27)">
<path d="M0,-5.6 L22.32438317461282,-5.6 Q26.32438317461282,-5.6 26.32438317461282,0 Q26.32438317461282,5.6 22.32438317461282,5.6 L0,5.6" fill="#fff" stroke="#1c1c1c" stroke-width="1.518" />
<path d="M9,-5.6 Q12.1248,0 9,5.6" fill="none" stroke="#555" stroke-width="1.056" />
<ellipse cx="0.0" cy="0.0" rx="3.472" ry="5.6" transform="rotate(0 0.0 0.0)" fill="#fff" stroke="#1c1c1c" stroke-width="1.584"/>
<ellipse cx="0.4" cy="0.0" rx="2.15264" ry="3.472" transform="rotate(0 0.4 0.0)" fill="none" stroke="#1c1c1c" stroke-width="1.32"/>
<ellipse cx="0.6" cy="0.0" rx="1.0415999999999999" ry="1.6" transform="rotate(0 0.6 0.0)" fill="none" stroke="#1c1c1c" stroke-width="1.1880000000000002"/>
</g>
<path d="M486.3,205.2 Q482.5,203 480.2,207.5 Q478.6,212 480.6,215.5 Q483,219 486.8,216.5" fill="none" stroke="#1c1c1c" stroke-width="1.584" />
<path d="M486.3,205.2 L487.3,207.4 Q484,206.2 482.8,209 Q482,212 483.4,214 Q484.8,215.6 486.6,214.4 L486.8,216.5" fill="none" stroke="#1c1c1c" stroke-width="1.32" />
<text x="482.6" y="243.1" font-size="16" font-weight="normal" text-anchor="middle" fill="#111" stroke="#111" stroke-width="0.35" >4</text>
<text x="507.0" y="249.1" font-size="16" font-weight="normal" text-anchor="middle" fill="#111" stroke="#111" stroke-width="0.35" >3</text>
<text x="542.4" y="270.6" font-size="16" font-weight="normal" text-anchor="middle" fill="#111" stroke="#111" stroke-width="0.35" >2</text>
<text x="541.6" y="320.1" font-size="16" font-weight="normal" text-anchor="middle" fill="#111" stroke="#111" stroke-width="0.35" >1</text>
<line x1="483.0" y1="217.5" x2="483.0" y2="228.5" stroke="#1c1c1c" stroke-width="1.32"/>
<line x1="483.0" y1="246.0" x2="483.0" y2="254.5" stroke="#1c1c1c" stroke-width="1.32"/>
<line x1="483.0" y1="254.5" x2="622.4" y2="330.0" stroke="#1c1c1c" stroke-width="1.32"/>
<line x1="622.4" y1="330.0" x2="622.4" y2="276.0" stroke="#1c1c1c" stroke-width="1.32"/>
<line x1="507.0" y1="213.0" x2="507.0" y2="234.0" stroke="#1c1c1c" stroke-width="1.32"/>
<line x1="507.0" y1="251.0" x2="507.0" y2="267.5" stroke="#1c1c1c" stroke-width="1.32"/>
<line x1="542.0" y1="240.0" x2="542.0" y2="256.5" stroke="#1c1c1c" stroke-width="1.32"/>
<line x1="542.0" y1="273.0" x2="542.0" y2="305.0" stroke="#1c1c1c" stroke-width="1.32"/>
<text x="784.4" y="77.1" font-size="16" font-weight="normal" text-anchor="middle" fill="#111" stroke="#111" stroke-width="0.35" >5</text>
<line x1="784.4" y1="79.0" x2="784.4" y2="103.0" stroke="#1c1c1c" stroke-width="1.32"/>
<text x="553.6" y="31.1" font-size="16" font-weight="normal" text-anchor="middle" fill="#111" stroke="#111" stroke-width="0.35" >16</text>
<line x1="553.6" y1="34.0" x2="553.6" y2="53.0" stroke="#1c1c1c" stroke-width="1.32"/>
<line x1="581.0" y1="85.0" x2="703.0" y2="163.0" stroke="#1c1c1c" stroke-width="1.32"/>
<text x="240.0" y="193.6" font-size="16" font-weight="normal" text-anchor="middle" fill="#111" stroke="#111" stroke-width="0.35" >6</text>
<text x="303.5" y="188.1" font-size="16" font-weight="normal" text-anchor="middle" fill="#111" stroke="#111" stroke-width="0.35" >8</text>
<line x1="239.7" y1="196.0" x2="239.7" y2="213.0" stroke="#1c1c1c" stroke-width="1.32"/>
<line x1="303.7" y1="191.0" x2="303.7" y2="214.0" stroke="#1c1c1c" stroke-width="1.32"/>
<text x="108.0" y="347.1" font-size="16" font-weight="normal" text-anchor="middle" fill="#111" stroke="#111" stroke-width="0.35" >10</text>
<text x="161.0" y="337.1" font-size="16" font-weight="normal" text-anchor="middle" fill="#111" stroke="#111" stroke-width="0.35" >13</text>
<line x1="108.0" y1="309.0" x2="108.0" y2="331.0" stroke="#1c1c1c" stroke-width="1.32"/>
<line x1="160.5" y1="306.0" x2="160.5" y2="321.0" stroke="#1c1c1c" stroke-width="1.32"/>
<line x1="175.0" y1="289.0" x2="231.0" y2="280.0" stroke="#1c1c1c" stroke-width="1.32"/>
<text x="356.4" y="355.5" font-size="16" font-weight="normal" text-anchor="middle" fill="#111" stroke="#111" stroke-width="0.35" >9</text>
<line x1="356.4" y1="323.0" x2="356.4" y2="341.0" stroke="#1c1c1c" stroke-width="1.32"/>
<text x="477.0" y="395.6" font-size="16" font-weight="normal" text-anchor="middle" fill="#111" stroke="#111" stroke-width="0.35" >9</text>
<line x1="477.0" y1="366.5" x2="477.0" y2="379.0" stroke="#1c1c1c" stroke-width="1.32"/>
<text x="414.0" y="390.6" font-size="16" font-weight="normal" text-anchor="middle" fill="#111" stroke="#111" stroke-width="0.35" >7</text>
<line x1="414.0" y1="357.5" x2="414.0" y2="374.5" stroke="#1c1c1c" stroke-width="1.32"/>
<text x="411.0" y="472.1" font-size="16" font-weight="normal" text-anchor="middle" fill="#111" stroke="#111" stroke-width="0.35" >17</text>
<line x1="410.8" y1="436.0" x2="410.8" y2="456.5" stroke="#1c1c1c" stroke-width="1.32"/>
<text x="818.5" y="374.1" font-size="16" font-weight="normal" text-anchor="middle" fill="#111" stroke="#111" stroke-width="0.35" >11</text>
<text x="878.5" y="362.1" font-size="16" font-weight="normal" text-anchor="middle" fill="#111" stroke="#111" stroke-width="0.35" >11</text>
<line x1="783.0" y1="368.0" x2="807.5" y2="368.0" stroke="#1c1c1c" stroke-width="1.32"/>
<line x1="842.0" y1="356.0" x2="867.5" y2="356.0" stroke="#1c1c1c" stroke-width="1.32"/>
<g transform="translate(769.5 354.0) rotate(60.20)">
<path d="M0,-2.2 L65.91290677607664,-2.2 Q67.41290677607664,-2.2 67.41290677607664,0 Q67.41290677607664,2.2 65.91290677607664,2.2 L0,2.2" fill="#fff" stroke="#1c1c1c" stroke-width="1.4520000000000002" />
<line x1="58.4" y1="-2.2" x2="59.1" y2="2.2" stroke="#1c1c1c" stroke-width="1.1880000000000002"/>
<line x1="60.1" y1="-2.2" x2="60.8" y2="2.2" stroke="#1c1c1c" stroke-width="1.1880000000000002"/>
<line x1="61.8" y1="-2.2" x2="62.5" y2="2.2" stroke="#1c1c1c" stroke-width="1.1880000000000002"/>
<line x1="63.5" y1="-2.2" x2="64.2" y2="2.2" stroke="#1c1c1c" stroke-width="1.1880000000000002"/>
<line x1="65.2" y1="-2.2" x2="65.9" y2="2.2" stroke="#1c1c1c" stroke-width="1.1880000000000002"/>
</g>
<g transform="translate(828.5 340.0) rotate(59.60)">
<path d="M0,-2.2 L68.64627573863064,-2.2 Q70.14627573863064,-2.2 70.14627573863064,0 Q70.14627573863064,2.2 68.64627573863064,2.2 L0,2.2" fill="#fff" stroke="#1c1c1c" stroke-width="1.4520000000000002" />
<line x1="61.1" y1="-2.2" x2="61.8" y2="2.2" stroke="#1c1c1c" stroke-width="1.1880000000000002"/>
<line x1="62.8" y1="-2.2" x2="63.5" y2="2.2" stroke="#1c1c1c" stroke-width="1.1880000000000002"/>
<line x1="64.5" y1="-2.2" x2="65.2" y2="2.2" stroke="#1c1c1c" stroke-width="1.1880000000000002"/>
<line x1="66.2" y1="-2.2" x2="66.9" y2="2.2" stroke="#1c1c1c" stroke-width="1.1880000000000002"/>
<line x1="67.9" y1="-2.2" x2="68.6" y2="2.2" stroke="#1c1c1c" stroke-width="1.1880000000000002"/>
</g>
<g transform="translate(752.0 325.0) rotate(58.89)">
<path d="M1.5,-3.3 L32.8710791088799,-3.3 Q34.8710791088799,0 32.8710791088799,3.3 L1.5,3.3 Q-0.5,3.3 -0.5,0 Q-0.5,-3.3 1.5,-3.3 Z" fill="#fff" stroke="#1c1c1c" stroke-width="1.518" />
<path d="M1.8,-3.3 Q3.0,0 1.8,3.3" fill="none" stroke="#1c1c1c" stroke-width="1.4520000000000002" />
<path d="M4.3,-3.3 Q5.5,0 4.3,3.3" fill="none" stroke="#1c1c1c" stroke-width="1.4520000000000002" />
<path d="M6.8,-3.3 Q8.0,0 6.8,3.3" fill="none" stroke="#1c1c1c" stroke-width="1.4520000000000002" />
<path d="M9.3,-3.3 Q10.5,0 9.3,3.3" fill="none" stroke="#1c1c1c" stroke-width="1.4520000000000002" />
</g>
<g transform="translate(811.5 312.0) rotate(58.74)">
<path d="M1.5,-3.3 L31.756678708318397,-3.3 Q33.7566787083184,0 31.756678708318397,3.3 L1.5,3.3 Q-0.5,3.3 -0.5,0 Q-0.5,-3.3 1.5,-3.3 Z" fill="#fff" stroke="#1c1c1c" stroke-width="1.518" />
<path d="M1.8,-3.3 Q3.0,0 1.8,3.3" fill="none" stroke="#1c1c1c" stroke-width="1.4520000000000002" />
<path d="M4.3,-3.3 Q5.5,0 4.3,3.3" fill="none" stroke="#1c1c1c" stroke-width="1.4520000000000002" />
<path d="M6.8,-3.3 Q8.0,0 6.8,3.3" fill="none" stroke="#1c1c1c" stroke-width="1.4520000000000002" />
<path d="M9.3,-3.3 Q10.5,0 9.3,3.3" fill="none" stroke="#1c1c1c" stroke-width="1.4520000000000002" />
</g>
<line x1="698.0" y1="239.0" x2="751.0" y2="323.5" stroke="#1c1c1c" stroke-width="1.32"/>
<line x1="758.0" y1="226.0" x2="811.0" y2="311.0" stroke="#1c1c1c" stroke-width="1.32"/>
<line x1="313.8" y1="290.8" x2="359.3" y2="283.0" stroke="#1c1c1c" stroke-width="1.32"/>
<line x1="359.3" y1="283.0" x2="395.0" y2="307.0" stroke="#1c1c1c" stroke-width="1.32"/>
<polygon points="395.0,307.0 390.4,301.3 388.0,304.9" fill="#111"/>
<line x1="481.5" y1="360.5" x2="547.5" y2="365.0" stroke="#1c1c1c" stroke-width="1.32"/>
<polygon points="547.5,365.0 540.7,362.3 540.4,366.7" fill="#111"/>
<line x1="458.0" y1="445.0" x2="479.5" y2="459.5" stroke="#1c1c1c" stroke-width="1.32"/>
<polygon points="479.5,459.5 474.9,453.8 472.5,457.4" fill="#111"/>
<text x="398.6" y="320.3" font-size="16" font-weight="bold" textLength="53.6" lengthAdjust="spacingAndGlyphs" fill="#000" stroke="#000" stroke-width="0.85">E-15-2</text>
<text x="559.8" y="366" font-size="16" font-weight="bold" textLength="37.2" lengthAdjust="spacingAndGlyphs" fill="#000" stroke="#000" stroke-width="0.85">E-15</text>
<text x="552.2" y="382.2" font-size="16" font-weight="bold" textLength="50.6" lengthAdjust="spacingAndGlyphs" fill="#000" stroke="#000" stroke-width="0.85">E-15-1</text>
<text x="462" y="473.9" font-size="16" font-weight="bold" textLength="52.8" lengthAdjust="spacingAndGlyphs" fill="#000" stroke="#000" stroke-width="0.85">E-15-3</text>
<text x="462" y="490.2" font-size="16" font-weight="bold" textLength="52.8" lengthAdjust="spacingAndGlyphs" fill="#000" stroke="#000" stroke-width="0.85">E-15-4</text>
<line x1="348.0" y1="404.0" x2="526.5" y2="404.0" stroke="#1c1c1c" stroke-width="1.584"/>
<line x1="526.0" y1="404.0" x2="526.0" y2="486.0" stroke="#1c1c1c" stroke-width="1.584"/>
<text x="901" y="489.5" font-size="13" fill="#111" textLength="66" lengthAdjust="spacingAndGlyphs">Z8T0E0200B</text>
<g transform="translate(913 433) rotate(30)"><text x="0" y="0" font-size="16.5" font-weight="bold" fill="#000" stroke="#000" stroke-width="1.2" textLength="28" lengthAdjust="spacingAndGlyphs">FR.</text><polygon points="29.5,-12 52.5,-12 52.5,-18.8 63.4,-6.1 52.5,5 52.5,0 30,0" fill="#000"/></g>
</g>

<g font-family="Liberation Serif, serif" font-weight="bold" font-size="72">
<mask id="mk" maskUnits="userSpaceOnUse" x="0" y="0" width="1000" height="500"><rect width="1000" height="500" fill="#fff"/><text x="557.4 600.4 643.7 692.7 741.1 799.9 841.0 861.1 913.9" y="107.8" fill="#000" stroke="#000" stroke-width="3" stroke-linejoin="round">SELTOP.RU</text><text x="311.8 354.8 398.1 447.1 495.5 554.3 595.4 615.5 668.3" y="271.8" fill="#000" stroke="#000" stroke-width="3" stroke-linejoin="round">SELTOP.RU</text><text x="65.0 108.0 151.3 200.3 248.7 307.5 348.6 368.7 421.5" y="422.3" fill="#000" stroke="#000" stroke-width="3" stroke-linejoin="round">SELTOP.RU</text></mask><g mask="url(#mk)"><g opacity="0.27" filter="url(#bl)" transform="translate(3.5 3.5)"><text x="557.4 600.4 643.7 692.7 741.1 799.9 841.0 861.1 913.9" y="107.8" fill="#000" stroke="#000" stroke-width="3.6" stroke-linejoin="round">SELTOP.RU</text><text x="311.8 354.8 398.1 447.1 495.5 554.3 595.4 615.5 668.3" y="271.8" fill="#000" stroke="#000" stroke-width="3.6" stroke-linejoin="round">SELTOP.RU</text><text x="65.0 108.0 151.3 200.3 248.7 307.5 348.6 368.7 421.5" y="422.3" fill="#000" stroke="#000" stroke-width="3.6" stroke-linejoin="round">SELTOP.RU</text></g></g><g opacity="0.42"><text x="557.4 600.4 643.7 692.7 741.1 799.9 841.0 861.1 913.9" y="107.8" fill="url(#pg)" stroke="url(#pg)" stroke-width="3" stroke-linejoin="round">SELTOP.RU</text><text x="311.8 354.8 398.1 447.1 495.5 554.3 595.4 615.5 668.3" y="271.8" fill="url(#pg)" stroke="url(#pg)" stroke-width="3" stroke-linejoin="round">SELTOP.RU</text><text x="65.0 108.0 151.3 200.3 248.7 307.5 348.6 368.7 421.5" y="422.3" fill="url(#pg)" stroke="url(#pg)" stroke-width="3" stroke-linejoin="round">SELTOP.RU</text></g>
</g>
</svg>
</body></html>
